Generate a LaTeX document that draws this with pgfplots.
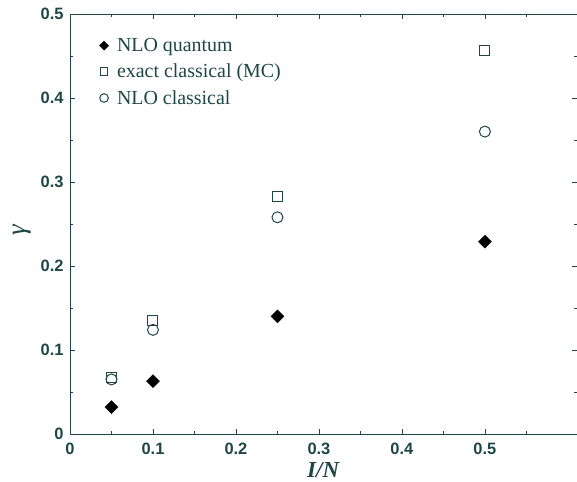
\documentclass[border=0pt]{standalone}
\usepackage{pgfplots}
\pgfplotsset{compat=1.18}
\usepackage{fontspec}
\setmainfont{Liberation Serif}
\setsansfont{Liberation Sans}
\definecolor{axc}{RGB}{30,70,70}
\begin{document}
\begin{tikzpicture}[x=1bp,y=1bp]
\path[use as bounding box] (-70bp,-48bp) rectangle (507bp,434bp);
\begin{axis}[
  at={(0,0)}, anchor=south west,
  scale only axis, width=507bp, height=420bp,
  xmin=0, xmax=0.611, ymin=0, ymax=0.5,
  xtick={0,0.1,...,0.5}, ytick={0,0.1,...,0.5},
  minor xtick={0.05,0.15,...,0.55}, minor ytick={0.05,0.15,...,0.45},
  tick align=inside, major tick length=5bp, minor tick length=3bp,
  axis line style={axc, line width=0.8pt},
  every tick/.style={axc, line width=0.8pt},
  /pgf/number format/assume math mode=true,
  /pgf/number format/fixed,
  tick label style={font=\sffamily\bfseries\fontsize{16.5}{18}\selectfont, text=axc},
  xticklabel style={yshift=-6bp},
  yticklabel style={xshift=-3bp},
  xlabel={\textbf{\textit{I/N}}}, ylabel={\textit{γ}},
  xlabel style={font=\fontsize{23}{25}\selectfont, text=axc, yshift=0bp},
  ylabel style={font=\fontsize{27}{29}\selectfont, text=axc, yshift=3bp, xshift=-6bp},
  legend style={draw=none, fill=none, at={(0.051,0.952)}, anchor=north west,
    font=\fontsize{20}{22}\selectfont, text=axc, row sep=7bp,
    legend cell align=left},
  legend image code/.code={\path[draw=none,fill=none] (-5bp,0bp) -- (11bp,0bp); \draw[#1] plot coordinates {(0bp,0bp)};},
]
\addplot[only marks, mark=square*, black, mark size=4.6bp, mark options={rotate=45, fill=black},
  legend image post style={mark size=3.2bp}]
  coordinates {(0.05,0.032) (0.1,0.063) (0.25,0.140) (0.5,0.229)};
\addlegendentry{NLO quantum}
\addplot[only marks, mark=square, axc, mark size=5bp, mark options={line width=1pt, fill=white},
  legend image post style={mark size=3.8bp}]
  coordinates {(0.05,0.067) (0.1,0.135) (0.25,0.283) (0.5,0.456)};
\addlegendentry{exact classical (MC)}
\addplot[only marks, mark=o, axc, mark size=5.5bp, mark options={line width=1pt},
  legend image post style={mark size=4.3bp}]
  coordinates {(0.05,0.065) (0.1,0.124) (0.25,0.258) (0.5,0.360)};
\addlegendentry{NLO classical}
\end{axis}
\end{tikzpicture}
\end{document}
